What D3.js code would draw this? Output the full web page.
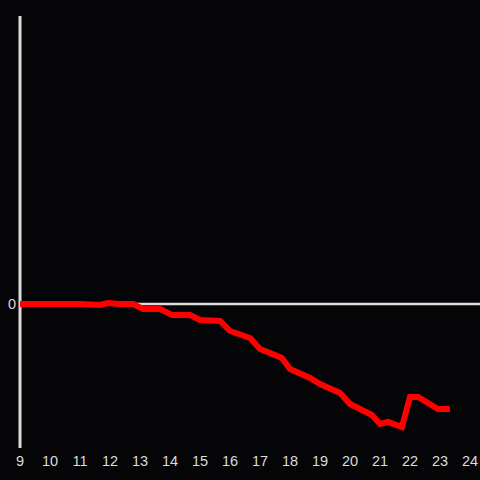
<!DOCTYPE html>
<html>
<head>
<meta charset="utf-8">
<script src="https://cdn.jsdelivr.net/npm/d3@7"></script>
<style>
  html, body { margin: 0; padding: 0; background: #050407; }
  svg { display: block; }
</style>
</head>
<body>
<div id="chart"></div>
<script>
// hour of day
const times = [9, 10, 11, 11.67, 11.93, 12.33, 12.77, 13.1, 13.67, 14.07, 14.67, 15, 15.67, 16,
  16.67, 17, 17.73, 18, 18.67, 19, 19.67, 20, 20.73, 21, 21.27, 21.73, 22, 22.27, 22.93, 23.33];
const values = [0, 0, 0, -1, 1, 0, 0, -5, -5, -11, -11, -16, -17, -27,
  -34, -45, -54, -65, -74, -80, -89, -100, -111, -120, -118, -123, -93, -93, -105, -105];
const xTicks = [9, 10, 11, 12, 13, 14, 15, 16, 17, 18, 19, 20, 21, 22, 23, 24];
const yTicks = [0];

const width = 480, height = 480;
const axisColor = '#dcdcdc';

const svg = d3.select('#chart').append('svg')
  .attr('width', width)
  .attr('height', height);

svg.append('rect').attr('width', width).attr('height', height).attr('fill', '#050407');

const x = d3.scaleLinear().domain([9, 24]).range([20, 470]);
const y = d3.scaleLinear().domain([-145, 288]).range([449, 16]);

// y axis line
svg.append('line')
  .attr('x1', x(9)).attr('x2', x(9))
  .attr('y1', 448).attr('y2', 16)
  .attr('stroke', axisColor).attr('stroke-width', 3);

// zero line
svg.append('line')
  .attr('x1', x(9)).attr('x2', width)
  .attr('y1', y(0)).attr('y2', y(0))
  .attr('stroke', axisColor).attr('stroke-width', 2.5);

svg.selectAll('.ylab')
  .data(yTicks)
  .enter()
  .append('text')
  .attr('x', x(9) - 4)
  .attr('y', d => y(d))
  .attr('dy', '.35em')
  .attr('text-anchor', 'end')
  .attr('fill', axisColor)
  .style('font', '14.5px "Liberation Sans", Arial, sans-serif')
  .text(d => d);

svg.selectAll('.xlab')
  .data(xTicks)
  .enter()
  .append('text')
  .attr('x', d => x(d))
  .attr('y', 461)
  .attr('dy', '.35em')
  .attr('text-anchor', 'middle')
  .attr('fill', axisColor)
  .style('font', '14.5px "Liberation Sans", Arial, sans-serif')
  .text(d => d);

const line = d3.line()
  .x((d, i) => x(times[i]))
  .y(d => y(d));

svg.append('path')
  .datum(values)
  .attr('fill', 'none')
  .attr('stroke', '#ff0000')
  .attr('stroke-width', 6)
  .attr('stroke-linejoin', 'miter')
  .attr('d', line);
</script>
</body>
</html>
